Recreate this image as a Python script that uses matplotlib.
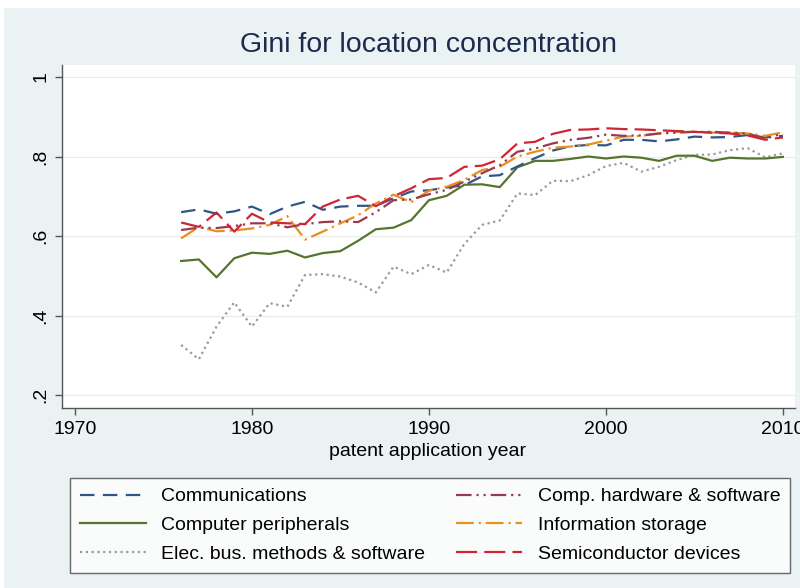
import matplotlib
matplotlib.use("Agg")
import matplotlib.pyplot as plt
from matplotlib.patches import Rectangle

plt.rcParams['font.family'] = ['Liberation Sans', 'DejaVu Sans']

years = list(range(1976, 2011))

communications = [0.660, 0.667, 0.656, 0.662, 0.674, 0.655, 0.674, 0.686, 0.666, 0.674,
                  0.676, 0.676, 0.695, 0.712, 0.715, 0.722, 0.728, 0.750, 0.753, 0.775,
                  0.796, 0.815, 0.826, 0.829, 0.828, 0.842, 0.842, 0.838, 0.843, 0.850,
                  0.848, 0.849, 0.854, 0.848, 0.852]
comp_hardware = [0.615, 0.621, 0.620, 0.625, 0.632, 0.632, 0.622, 0.630, 0.635, 0.637,
                 0.635, 0.660, 0.690, 0.692, 0.705, 0.716, 0.737, 0.758, 0.778, 0.812,
                 0.820, 0.833, 0.842, 0.847, 0.855, 0.852, 0.853, 0.858, 0.860, 0.862,
                 0.862, 0.860, 0.858, 0.845, 0.858]
computer_peripherals = [0.537, 0.541, 0.496, 0.544, 0.558, 0.555, 0.563, 0.546, 0.557, 0.562,
                        0.588, 0.617, 0.621, 0.640, 0.690, 0.701, 0.729, 0.730, 0.723, 0.773,
                        0.789, 0.789, 0.794, 0.800, 0.795, 0.800, 0.797, 0.789, 0.802, 0.802,
                        0.789, 0.797, 0.795, 0.795, 0.799]
information_storage = [0.594, 0.623, 0.612, 0.614, 0.619, 0.628, 0.650, 0.591, 0.611, 0.632,
                       0.652, 0.682, 0.704, 0.685, 0.714, 0.724, 0.741, 0.766, 0.774, 0.800,
                       0.812, 0.822, 0.825, 0.830, 0.840, 0.850, 0.852, 0.858, 0.862, 0.862,
                       0.860, 0.860, 0.858, 0.852, 0.861]
elec_bus = [0.326, 0.290, 0.372, 0.433, 0.372, 0.431, 0.422, 0.502, 0.504, 0.498,
            0.483, 0.458, 0.523, 0.504, 0.527, 0.508, 0.580, 0.628, 0.639, 0.707,
            0.703, 0.739, 0.738, 0.753, 0.776, 0.784, 0.762, 0.774, 0.791, 0.804,
            0.805, 0.816, 0.821, 0.798, 0.808]
semiconductor = [0.634, 0.623, 0.659, 0.611, 0.656, 0.634, 0.632, 0.630, 0.674, 0.692,
                 0.701, 0.675, 0.700, 0.720, 0.743, 0.746, 0.774, 0.777, 0.793, 0.833,
                 0.837, 0.857, 0.867, 0.868, 0.871, 0.869, 0.868, 0.866, 0.864, 0.862,
                 0.860, 0.858, 0.853, 0.842, 0.848]

labels = ["Communications", "Comp. hardware & software", "Computer peripherals",
          "Information storage", "Elec. bus. methods & software", "Semiconductor devices"]
xticks = [1970, 1980, 1990, 2000, 2010]
yticks = [0.2, 0.4, 0.6, 0.8, 1.0]
ytick_labels = [".2", ".4", ".6", ".8", "1"]

BG = "#eaf2f3"
fig = plt.figure(figsize=(8.0, 5.88), dpi=100, facecolor="white")
fig.patches.append(Rectangle((4/800, 0), 1, 1 - 8/588, transform=fig.transFigure,
                             facecolor=BG, edgecolor="none", zorder=-10))

ax = fig.add_axes([62/800, 1 - 408/588, 733/800, 343/588])
ax.set_facecolor("white")

lw = 1.6
styles = {
    "Communications": dict(color="#2f5686", dashes=[6.5, 3.8]),
    "Comp. hardware & software": dict(color="#9b3a4e", dashes=[7, 2.2, 1, 2.2, 1, 2.2]),
    "Computer peripherals": dict(color="#55752f", linestyle="-"),
    "Information storage": dict(color="#e8901c", dashes=[8, 2.2, 1, 2.2]),
    "Elec. bus. methods & software": dict(color="#9a9a9a", dashes=[1.0, 1.6]),
    "Semiconductor devices": dict(color="#cf2636", dashes=[9.5, 3.2]),
}
series = {
    "Communications": communications,
    "Comp. hardware & software": comp_hardware,
    "Computer peripherals": computer_peripherals,
    "Information storage": information_storage,
    "Elec. bus. methods & software": elec_bus,
    "Semiconductor devices": semiconductor,
}
handles = {}
for name in ["Elec. bus. methods & software", "Computer peripherals", "Communications",
             "Information storage", "Comp. hardware & software", "Semiconductor devices"]:
    st = styles[name]
    kw = dict(color=st["color"], lw=lw)
    if "dashes" in st:
        kw["dashes"] = st["dashes"]
    else:
        kw["linestyle"] = st["linestyle"]
    h, = ax.plot(years, series[name], label=name, **kw)
    handles[name] = h

ax.set_xlim(1969.27, 2010.68)
ax.set_ylim(0.1673, 1.0302)
ax.set_xticks(xticks)
ax.set_yticks(yticks)
ax.set_yticklabels(ytick_labels, rotation=90, va="center")
for yv in yticks:
    ax.axhline(yv, color="#ececec", lw=0.9, zorder=0)
for s in ["top", "right"]:
    ax.spines[s].set_visible(False)
for s in ["left", "bottom"]:
    ax.spines[s].set_color("#555555")
    ax.spines[s].set_linewidth(1.0)
ax.tick_params(axis="both", colors="#555555", length=5, width=1.0, labelcolor="black",
               labelsize=14)
ax.tick_params(axis="x", pad=4)
ax.tick_params(axis="y", pad=4)

fig.text(428/800, 1 - 45/588, "Gini for location concentration", ha="center", va="center",
         fontsize=20.5, color="#1c2a4e")
fig.text(428/800, 1 - 452/588, "patent application year", ha="center", va="center",
         fontsize=14, color="black")

order = ["Communications", "Computer peripherals", "Elec. bus. methods & software",
         "Comp. hardware & software", "Information storage", "Semiconductor devices"]
leg = fig.legend([handles[n] for n in order], order, ncol=2,
                 bbox_to_anchor=(70/800, 1 - 572/588, 720/800, 94/588),
                 loc="upper left", mode="expand", fontsize=14, frameon=True,
                 fancybox=False, handlelength=3.4, handletextpad=0.8,
                 labelspacing=0.58, borderpad=0.5, borderaxespad=0.0)
leg.get_frame().set_edgecolor("#444444")
leg.get_frame().set_linewidth(1.0)

fig.savefig("out.png", dpi=100, facecolor=fig.get_facecolor())
